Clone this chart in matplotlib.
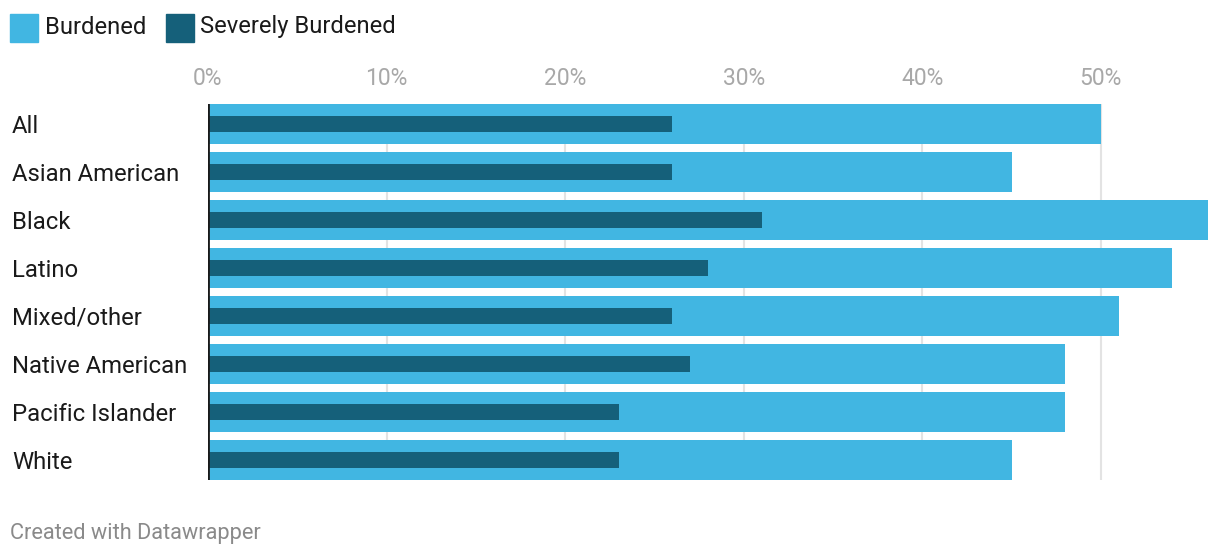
import matplotlib.pyplot as plt
from matplotlib.patches import Rectangle
from matplotlib.ticker import FuncFormatter

plt.rcParams['font.family'] = ['Roboto', 'DejaVu Sans']

groups = ['All', 'Asian American', 'Black', 'Latino', 'Mixed/other',
          'Native American', 'Pacific Islander', 'White']
burdened = [50, 45, 56, 54, 51, 48, 48, 45]
severe = [26, 26, 31, 28, 26, 27, 23, 23]

light = '#41b6e2'
dark = '#15607a'

W, H = 1220, 558
fig = plt.figure(figsize=(W / 100, H / 100), dpi=100)
ax = fig.add_axes([208 / W, 1 - 480 / H, 1000 / W, 376 / H])

pos = list(range(len(groups)))
ax.barh(pos, burdened, height=40 / 48, color=light, zorder=2)
ax.barh(pos, severe, height=16 / 48, color=dark, zorder=3)

ax.set_xlim(0, 56)
ax.set_ylim(len(groups) - 1 + 20 / 48, -20 / 48)
ax.set_xticks(range(0, 60, 10))
ax.xaxis.set_major_formatter(FuncFormatter(lambda v, p: f'{v:.0f}%'))
ax.xaxis.tick_top()
ax.tick_params(axis='x', length=0, pad=10, labelsize=16.5, labelcolor='#a8a8a8')
ax.grid(axis='x', color='#e3e3e3', linewidth=1.5, zorder=0)
ax.axvline(0, color='#1a1a1a', linewidth=2, zorder=4)

ax.set_yticks(pos)
ax.set_yticklabels(groups, fontsize=17.2, color='#1a1a1a', ha='left',
                   va='center_baseline')
ax.tick_params(axis='y', length=0, pad=196 * 0.72)
for s in ax.spines.values():
    s.set_visible(False)

# legend
fig.patches.append(Rectangle((10 / W, 1 - 42 / H), 28 / W, 28 / H,
                             transform=fig.transFigure, color=light))
fig.text(45 / W, 1 - 27 / H, 'Burdened', fontsize=17.1, color='#1a1a1a', va='center')
fig.patches.append(Rectangle((166 / W, 1 - 42 / H), 28 / W, 28 / H,
                             transform=fig.transFigure, color=dark))
fig.text(200 / W, 1 - 27 / H, 'Severely Burdened', fontsize=17.1, color='#1a1a1a', va='center')

fig.text(10 / W, 1 - 534 / H, 'Created with Datawrapper', fontsize=15.7,
         color='#8a8a8a', va='center')

fig.savefig('out.png', dpi=100)
